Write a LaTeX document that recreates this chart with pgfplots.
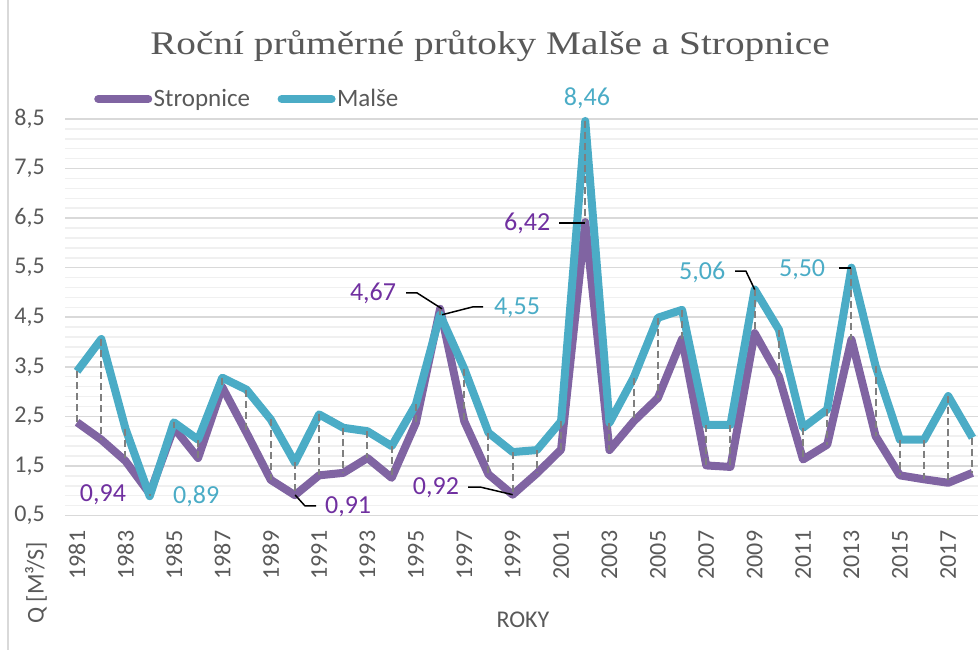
\documentclass[border=0pt]{standalone}
\usepackage{pgfplots}
\pgfplotsset{compat=1.18}
\usepackage{pgfplotstable}
\usepackage{fontspec}
\setmainfont{Carlito}
\newfontfamily\titlefont[FakeStretch=1.19]{Liberation Serif}
\definecolor{strop}{HTML}{8064A2}
\definecolor{malse}{HTML}{4BACC6}
\definecolor{stroplab}{HTML}{7030A0}
\definecolor{malselab}{HTML}{4BACC6}
\definecolor{txt}{HTML}{595959}
\definecolor{gridc}{HTML}{D9D9D9}
\definecolor{mgridc}{HTML}{F0F0F0}
\definecolor{dropc}{HTML}{7F7F7F}
\pgfplotstableread{
year strop malse
1981 2.38 3.41
1982 2.03 4.06
1983 1.60 2.25
1984 0.94 0.89
1985 2.27 2.38
1986 1.66 2.03
1987 3.09 3.28
1988 2.17 3.04
1989 1.22 2.44
1990 0.91 1.57
1991 1.31 2.54
1992 1.36 2.27
1993 1.66 2.20
1994 1.26 1.90
1995 2.37 2.74
1996 4.67 4.55
1997 2.40 3.46
1998 1.33 2.17
1999 0.92 1.78
2000 1.35 1.82
2001 1.83 2.40
2002 6.42 8.46
2003 1.82 2.37
2004 2.40 3.28
2005 2.87 4.49
2006 4.06 4.65
2007 1.51 2.33
2008 1.48 2.33
2009 4.18 5.06
2010 3.31 4.25
2011 1.63 2.27
2012 1.93 2.64
2013 4.05 5.50
2014 2.10 3.51
2015 1.31 2.03
2016 1.23 2.03
2017 1.16 2.91
2018 1.36 2.07
}\datatable
\begin{document}
\begin{tikzpicture}
\draw[gridc, line width=1.5bp] (8bp,0bp) -- (8bp,650bp);
\begin{axis}[
  at={(65bp,134.5bp)}, anchor=south west,
  scale only axis, width=913bp, height=396.5bp,
  xmin=1980.5, xmax=2018.23, ymin=0.5, ymax=8.5,
  clip=false,
  axis line style={draw=none},
  tick style={draw=none},
  major tick length=0pt, minor tick length=0pt,
  ytick={0.5,1.5,2.5,3.5,4.5,5.5,6.5,7.5,8.5},
  yticklabels={{0,5},{1,5},{2,5},{3,5},{4,5},{5,5},{6,5},{7,5},{8,5}},
  minor y tick num=4,
  ymajorgrids, yminorgrids,
  major grid style={draw=gridc, line width=1.5bp},
  minor grid style={draw=mgridc, line width=1.5bp},
  xtick={1981,1983,1985,1987,1989,1991,1993,1995,1997,1999,2001,2003,2005,2007,2009,2011,2013,2015,2017},
  xticklabels={1981,1983,1985,1987,1989,1991,1993,1995,1997,1999,2001,2003,2005,2007,2009,2011,2013,2015,2017},
  yticklabel style={anchor=east, inner sep=0pt, xshift=-20bp, font=\fontsize{24bp}{28bp}\selectfont, text=txt},
  xticklabel style={rotate=90, anchor=east, inner sep=0pt, xshift=-15bp, font=\fontsize{24bp}{28bp}\selectfont, text=txt},
  xlabel={ROKY},
  xlabel style={at={(axis description cs:0.5016,-0.2636)}, anchor=center, font=\fontsize{24bp}{28bp}\selectfont, text=txt},
  ylabel={Q [M³/S]},
  ylabel style={at={(axis description cs:-0.0318,-0.170)}, anchor=center, rotate=0, font=\fontsize{24bp}{28bp}\selectfont, text=txt},
  title={Roční průměrné průtoky Malše a Stropnice},
  title style={at={(axis description cs:0.4655,1.169)}, anchor=center, font=\titlefont\fontsize{33bp}{38bp}\selectfont, text=txt},
  legend style={at={(axis description cs:0.0318,1.0504)}, anchor=west, draw=none, fill=none, inner sep=0pt,
     legend columns=2, font=\fontsize{25bp}{29bp}\selectfont, text=txt,
     nodes={inner sep=1.5bp},
     /tikz/every even column/.append style={column sep=26bp}},
  legend image code/.code={\draw[#1, line cap=round] (0bp,0bp) -- (50bp,0bp);},
]
\addplot[strop, line width=8bp, line join=round, mark=none] table[x=year, y=strop] {\datatable};
\addlegendentry{Stropnice}
\addplot[malse, line width=8bp, line join=round, mark=none] table[x=year, y=malse] {\datatable};
\addlegendentry{Malše}
\addplot[draw=none, mark=none, forget plot,
  error bars/.cd, y dir=minus, y explicit, error mark=none,
  error bar style={draw=dropc, line width=2bp, dash pattern=on 7bp off 4bp}]
  table[x=year, y=malse, y error expr=\thisrow{malse}-\thisrow{strop}] {\datatable};
% data labels
\begin{scope}[every node/.style={font=\fontsize{26bp}{30bp}\selectfont, inner sep=0pt}]
\node[text=stroplab] at (axis cs:1982.07,0.91) {0,94};
\node[text=malselab] at (axis cs:1985.92,0.89) {0,89};
\node[text=stroplab] at (axis cs:1992.2,0.67) {0,91};
\node[text=stroplab] at (axis cs:1995.83,1.055) {0,92};
\node[text=stroplab] at (axis cs:1993.23,4.99) {4,67};
\node[text=malselab] at (axis cs:1999.18,4.687) {4,55};
\node[text=stroplab] at (axis cs:1999.6,6.40) {6,42};
\node[text=malselab] at (axis cs:2002.07,8.92) {8,46};
\node[text=malselab] at (axis cs:2006.83,5.41) {5,06};
\node[text=malselab] at (axis cs:2010.96,5.45) {5,50};
\end{scope}
\begin{scope}[black, line width=1.5bp]
\draw (axis cs:1990.01,0.914) -- (axis cs:1990.42,0.692) -- (axis cs:1990.88,0.692);
\draw (axis cs:1997.16,1.075) -- (axis cs:1997.65,1.075) -- (axis cs:1999,0.92);
\draw (axis cs:1994.60,4.99) -- (axis cs:1995.05,4.99) -- (axis cs:1996.08,4.67);
\draw (axis cs:1996.08,4.55) -- (axis cs:1997.36,4.71) -- (axis cs:1997.78,4.71);
\draw (axis cs:2000.92,6.40) -- (axis cs:2002.0,6.40);
\draw (axis cs:2008.19,5.43) -- (axis cs:2008.64,5.43) -- (axis cs:2009.0,5.06);
\draw (axis cs:2012.49,5.49) -- (axis cs:2013.0,5.49);
\end{scope}
\end{axis}
\pgfresetboundingbox
\useasboundingbox (0bp,0bp) rectangle (978bp,650bp);
\end{tikzpicture}
\end{document}
